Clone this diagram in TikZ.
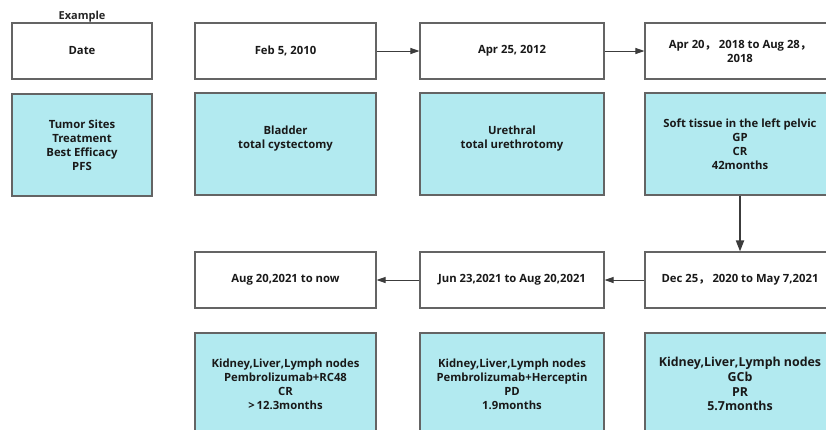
\documentclass[tikz,border=0pt]{standalone}
\usepackage{fontspec}
\setmainfont{Open Sans}
\newfontfamily\cjkf{Noto Sans CJK SC}
\usetikzlibrary{arrows.meta}
\definecolor{boxblue}{RGB}{178,234,240}
\definecolor{edgegray}{RGB}{100,100,100}
\definecolor{arrowgray}{RGB}{60,60,60}
\newcommand{\fwc}{{\cjkf ，}}
\tikzset{
  datebox/.style={draw=edgegray, line width=1.1pt, fill=white, rectangle, minimum height=56pt, align=center, font=\bfseries\fontsize{11.3}{14}\selectfont, text=black!90, inner sep=2pt},
  infobox/.style={draw=edgegray, line width=1.1pt, fill=boxblue, rectangle, minimum height=102pt, align=center, font=\bfseries\fontsize{11.3}{14}\selectfont, text=black!90, inner sep=2pt},
  flow/.style={draw=arrowgray, line width=0.9pt, -{Triangle[length=9pt,width=6pt]}},
  flowthick/.style={draw=arrowgray, line width=1.8pt, -{Triangle[length=11pt,width=8pt]}}
}
\begin{document}
\begin{tikzpicture}[x=1pt,y=-1pt]
\useasboundingbox (0,0) rectangle (826,429);
\clip (0,0) rectangle (826,429);
\fill[white] (0,0) rectangle (826,429);
% example column
\node[font=\bfseries\fontsize{11}{13}\selectfont, text=black!85] (ex) at (82,17) {Example};
\node[datebox, minimum width=140pt] (d0) at (82,51) {Date};
\node[infobox, minimum width=140pt] (i0) at (82,145) {Tumor Sites\\Treatment\\Best Efficacy\\PFS};
% top row
\node[datebox, minimum width=181pt] (d1) at (285.5,51) {Feb 5, 2010};
\node[infobox, minimum width=181pt] (i1) at (285.5,144) {Bladder\\total cystectomy\\\mbox{}};
\node[datebox, minimum width=184pt] (d2) at (512,51) {Apr 25, 2012};
\node[infobox, minimum width=184pt] (i2) at (512,144) {Urethral\\total urethrotomy\\\mbox{}};
\node[datebox, minimum width=190pt] (d3) at (740,51) {Apr 20\fwc\ 2018 to Aug 28\fwc\\2018};
\node[infobox, minimum width=190pt] (i3) at (740,144) {Soft tissue in the left pelvic\\GP\\CR\\42months};
% bottom row
\node[datebox, minimum width=190pt] (d4) at (740,280) {Dec 25\fwc\ 2020 to May 7,2021};
\node[infobox, minimum width=190pt, font=\bfseries\fontsize{12.4}{14.8}\selectfont] (i4) at (740,384) {Kidney,Liver,Lymph nodes\\GCb\\PR\\5.7months};
\node[datebox, minimum width=184pt] (d5) at (512,280) {Jun 23,2021 to Aug 20,2021};
\node[infobox, minimum width=184pt] (i5) at (512,384) {Kidney,Liver,Lymph nodes\\Pembrolizumab+Herceptin\\PD\\1.9months};
\node[datebox, minimum width=181pt] (d6) at (285.5,280) {Aug 20,2021 to now};
\node[infobox, minimum width=181pt] (i6) at (285.5,384) {Kidney,Liver,Lymph nodes\\Pembrolizumab+RC48\\CR\\>\,12.3months};
% arrows
\draw[flow] (d1.east) -- (d2.west);
\draw[flow] (d2.east) -- (d3.west);
\draw[flowthick] (i3.south) -- (d4.north);
\draw[flow] (d4.west) -- (d5.east);
\draw[flow] (d5.west) -- (d6.east);
\end{tikzpicture}
\end{document}
